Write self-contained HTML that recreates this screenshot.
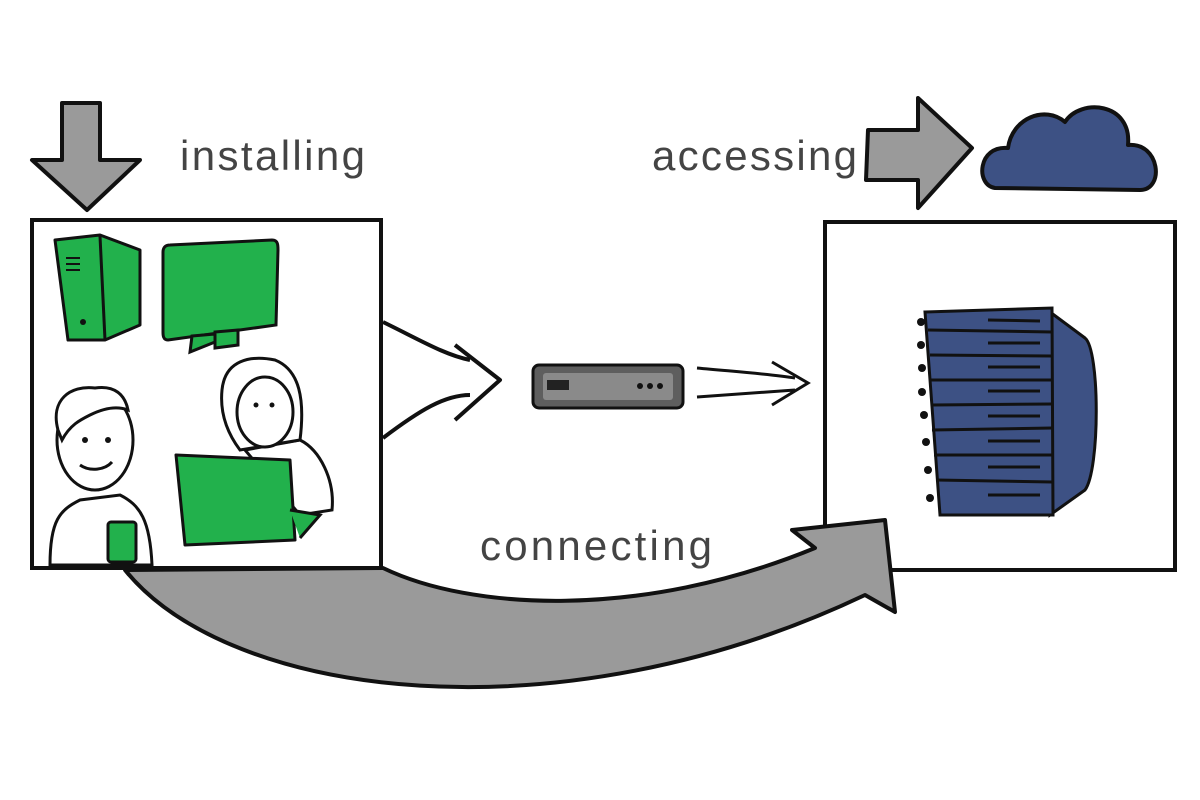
<!DOCTYPE html>
<html><head><meta charset="utf-8"><style>body{margin:0;background:#fff}svg{display:block}text{font-family:"Liberation Sans",sans-serif;fill:#444}</style></head><body>
<svg width="1200" height="800" viewBox="0 0 1200 800">
<rect x="825" y="222" width="350" height="348" fill="#fff" stroke="#111" stroke-width="4"/>
<!-- big curved arrow -->
<path d="M125,570 C230,700 560,740 865,595 L895,612 L885,520 L792,530 L815,548 C640,620 470,610 383,568 Z" fill="#9a9a9a" stroke="#111" stroke-width="4" stroke-linejoin="round"/>
<rect x="32" y="220" width="349" height="348" fill="#fff" stroke="#111" stroke-width="4"/>
<!-- down arrow -->
<path d="M62,103 L100,103 L100,160 L140,160 L87,210 L32,160 L62,160 Z" fill="#9a9a9a" stroke="#111" stroke-width="4" stroke-linejoin="round"/>
<!-- right arrow -->
<path d="M868,130 L918,130 L918,98 L972,148 L918,208 L918,180 L866,180 Z" fill="#9a9a9a" stroke="#111" stroke-width="4" stroke-linejoin="round"/>
<!-- cloud -->
<path d="M995,188 C975,185 978,145 1008,148 C1012,118 1045,105 1065,122 C1080,98 1132,102 1128,145 C1160,142 1165,190 1140,190 Z" fill="#3d5184" stroke="#111" stroke-width="4" stroke-linejoin="round"/>
<text x="180" y="170" font-size="42" textLength="185" lengthAdjust="spacing">installing</text>
<text x="652" y="170" font-size="42" textLength="205" lengthAdjust="spacing">accessing</text>
<text x="480" y="560" font-size="42" textLength="232" lengthAdjust="spacing">connecting</text>
<!-- thin arrows -->
<path d="M383,322 C420,340 445,355 470,360 M383,438 C420,410 445,395 470,395 M455,345 L500,380 L455,420" fill="none" stroke="#111" stroke-width="4" stroke-linejoin="round"/>
<path d="M697,368 C740,372 770,374 795,378 M697,397 C740,394 770,392 795,390 M772,362 L808,383 L772,405" fill="none" stroke="#111" stroke-width="3"/>
<!-- router -->
<rect x="533" y="365" width="150" height="43" rx="6" fill="#5e5e5e" stroke="#111" stroke-width="3"/>
<rect x="543" y="373" width="130" height="27" rx="3" fill="#8a8a8a"/>
<rect x="547" y="380" width="22" height="10" fill="#222"/>
<circle cx="640" cy="386" r="3" fill="#111"/><circle cx="650" cy="386" r="3" fill="#111"/><circle cx="660" cy="386" r="3" fill="#111"/>
<!-- server -->
<path d="M1050,312 L1085,338 C1100,350 1100,470 1085,490 L1050,515 Z" fill="#3d5184" stroke="#111" stroke-width="3"/>
<path d="M925,312 L1052,308 L1053,515 L940,515 Z" fill="#3d5184" stroke="#111" stroke-width="3"/>
<g stroke="#111" stroke-width="3" fill="none">
<path d="M928,330 L1052,332 M930,355 L1052,356 M930,380 L1052,380 M932,405 L1052,404 M932,430 L1052,428 M934,455 L1052,455 M936,480 L1052,482"/>
<path d="M988,320 L1040,321 M988,343 L1040,343 M988,367 L1040,367 M988,391 L1040,391 M988,416 L1040,416 M988,441 L1040,441 M988,467 L1040,467 M988,495 L1040,495"/>
</g>
<g fill="#111">
<circle cx="921" cy="322" r="4"/><circle cx="921" cy="345" r="4"/><circle cx="922" cy="368" r="4"/><circle cx="922" cy="392" r="4"/><circle cx="924" cy="415" r="4"/><circle cx="926" cy="442" r="4"/><circle cx="928" cy="470" r="4"/><circle cx="930" cy="498" r="4"/>
</g>
<!-- computer tower -->
<path d="M55,240 L100,235 L140,250 L140,325 L105,340 L68,340 Z" fill="#22b14c" stroke="#111" stroke-width="3" stroke-linejoin="round"/>
<path d="M100,236 L105,340" stroke="#111" stroke-width="3"/>
<circle cx="83" cy="322" r="3" fill="#111"/>
<path d="M66,258 L80,258 M66,264 L80,264 M66,270 L80,270" stroke="#111" stroke-width="2"/>
<!-- monitor -->
<path d="M170,245 L272,240 C278,240 278,245 278,250 L276,325 L168,340 C163,340 163,335 163,332 L163,252 C163,247 166,245 170,245 Z" fill="#22b14c" stroke="#111" stroke-width="3"/>
<path d="M192,336 L215,334 L215,342 L190,352 Z M215,332 L238,330 L238,345 L215,348 Z" fill="#22b14c" stroke="#111" stroke-width="3"/>
<!-- man -->
<g fill="#fff" stroke="#111" stroke-width="3">
<path d="M50,565 C50,520 60,510 80,500 L120,495 C140,505 150,520 152,565 Z"/>
<ellipse cx="95" cy="440" rx="38" ry="50"/>
<path d="M58,430 C50,400 70,385 95,388 C115,385 125,395 128,410 C115,405 100,410 90,415 C80,420 70,425 62,440 Z" />
</g>
<circle cx="85" cy="440" r="3" fill="#111"/><circle cx="108" cy="440" r="3" fill="#111"/>
<path d="M80,465 C90,472 105,470 112,462" fill="none" stroke="#111" stroke-width="3"/>
<rect x="108" y="522" width="28" height="40" rx="3" fill="#22b14c" stroke="#111" stroke-width="3"/>
<!-- woman -->
<g fill="#fff" stroke="#111" stroke-width="3">
<path d="M245,450 L300,440 C320,450 335,480 332,510 L300,515 Z"/>
<path d="M222,390 C225,360 250,355 275,360 C300,370 305,400 300,440 L240,450 C225,430 220,410 222,390 Z"/>
<ellipse cx="265" cy="412" rx="28" ry="35"/>
</g>
<circle cx="256" cy="405" r="2.5" fill="#111"/><circle cx="272" cy="405" r="2.5" fill="#111"/>
<path d="M176,455 L290,460 L295,540 L185,545 Z" fill="#22b14c" stroke="#111" stroke-width="3" stroke-linejoin="round"/>
<path d="M290,510 L320,515 L300,538" fill="#22b14c" stroke="#111" stroke-width="3"/>
</svg>
</body></html>
